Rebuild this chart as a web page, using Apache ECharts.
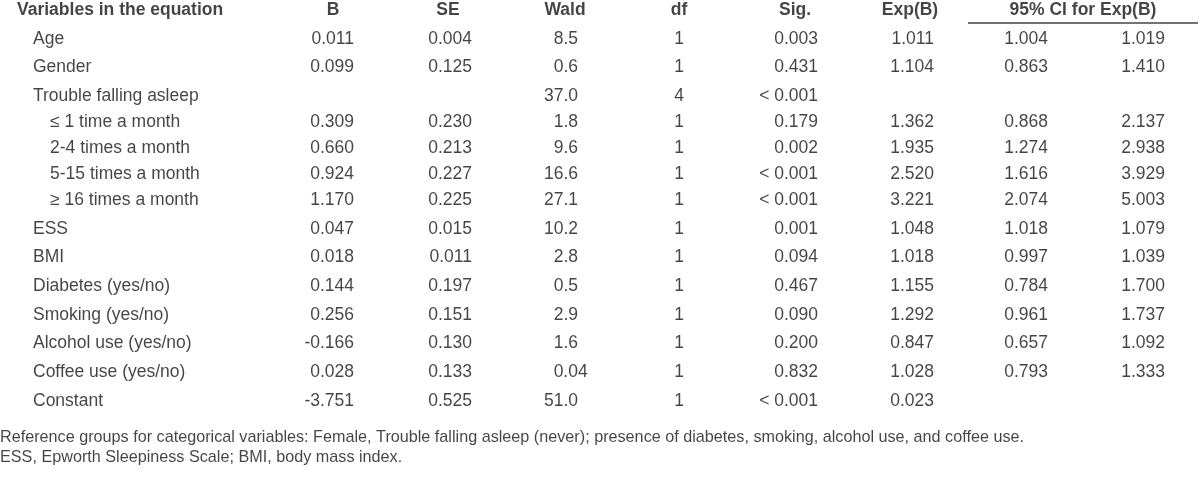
<!DOCTYPE html>
<html>
<head>
<meta charset="utf-8">
<script src="https://cdn.jsdelivr.net/npm/echarts@6/dist/echarts.min.js"></script>
<style>
html,body{margin:0;padding:0;background:#fff;}
#c{width:1200px;height:488px;}
</style>
</head>
<body>
<div id="c"></div>
<script>
// ---- data ----
var headers = ['Variables in the equation', 'B', 'SE', 'Wald', 'df', 'Sig.', 'Exp(B)', '95% CI for Exp(B)'];
var variables = ['Age', 'Gender', 'Trouble falling asleep', '\u2264 1 time a month', '2-4 times a month',
  '5-15 times a month', '\u2265 16 times a month', 'ESS', 'BMI', 'Diabetes (yes/no)', 'Smoking (yes/no)',
  'Alcohol use (yes/no)', 'Coffee use (yes/no)', 'Constant'];
var indentLevel = [1, 1, 1, 2, 2, 2, 2, 1, 1, 1, 1, 1, 1, 1];
var B = [0.011, 0.099, null, 0.309, 0.660, 0.924, 1.170, 0.047, 0.018, 0.144, 0.256, -0.166, 0.028, -3.751];
var SE = [0.004, 0.125, null, 0.230, 0.213, 0.227, 0.225, 0.015, 0.011, 0.197, 0.151, 0.130, 0.133, 0.525];
var Wald = ['8.5', '0.6', '37.0', '1.8', '9.6', '16.6', '27.1', '10.2', '2.8', '0.5', '2.9', '1.6', '0.04', '51.0'];
var dfVals = [1, 1, 4, 1, 1, 1, 1, 1, 1, 1, 1, 1, 1, 1];
var Sig = ['0.003', '0.431', '< 0.001', '0.179', '0.002', '< 0.001', '< 0.001', '0.001', '0.094', '0.467', '0.090', '0.200', '0.832', '< 0.001'];
var ExpB = [1.011, 1.104, null, 1.362, 1.935, 2.520, 3.221, 1.048, 1.018, 1.155, 1.292, 0.847, 1.028, 0.023];
var CILower = [1.004, 0.863, null, 0.868, 1.274, 1.616, 2.074, 1.018, 0.997, 0.784, 0.961, 0.657, 0.793, null];
var CIUpper = [1.019, 1.410, null, 2.137, 2.938, 3.929, 5.003, 1.079, 1.039, 1.700, 1.737, 1.092, 1.333, null];
var footnotes = [
  'Reference groups for categorical variables: Female, Trouble falling asleep (never); presence of diabetes, smoking, alcohol use, and coffee use.',
  'ESS, Epworth Sleepiness Scale; BMI, body mass index.'
];

// ---- layout / style ----
var FONT = "'Liberation Sans Narrow', 'Arial Narrow', 'Liberation Sans', sans-serif";
var TEXT = '#151515';
var BODY_SIZE = 17.5;
var HEAD_SIZE = 17.5;
var layout = {
  headerY: 10, firstRowY: 38.7, mainGap: 28.7, subGap: 26,
  nameX: {1: 33, 2: 50}, headerNameX: 17,
  digitW: 9.7,
  cols: [
    {key: 'B', x: 354, align: 'right', hx: 333},
    {key: 'SE', x: 472, align: 'right', hx: 448},
    {key: 'Wald', x: 578, align: 'decimal', hx: 565},
    {key: 'df', x: 679, align: 'center', hx: 679},
    {key: 'Sig', x: 818, align: 'right', hx: 795},
    {key: 'Exp', x: 934, align: 'right', hx: 910},
    {key: 'lo', x: 1048, align: 'right'},
    {key: 'hi', x: 1165, align: 'right'}
  ],
  ciHeaderX: 1083, ciLine: [968, 1198], ciLineY: 22.7,
  footY: [438, 458], footSize: 16.2
};

var colValues = {
  B: B.map(function (v) { return v == null ? '' : v.toFixed(3); }),
  SE: SE.map(function (v) { return v == null ? '' : v.toFixed(3); }),
  Wald: Wald,
  df: dfVals.map(String),
  Sig: Sig,
  Exp: ExpB.map(function (v) { return v == null ? '' : v.toFixed(3); }),
  lo: CILower.map(function (v) { return v == null ? '' : v.toFixed(3); }),
  hi: CIUpper.map(function (v) { return v == null ? '' : v.toFixed(3); })
};

// row positions from indent rule
var rowY = [];
for (var i = 0; i < variables.length; i++) {
  if (i === 0) rowY.push(layout.firstRowY);
  else rowY.push(rowY[i - 1] + (indentLevel[i] === 2 ? layout.subGap : layout.mainGap));
}

function cell(x, y, text, align, bold, size, dx) {
  return {
    value: [x, y],
    label: {
      show: true, position: 'inside', formatter: text,
      align: align, verticalAlign: 'middle',
      offset: [dx || 0, 0],
      fontFamily: FONT, fontSize: size || BODY_SIZE,
      fontWeight: bold ? 'bold' : 'normal', color: TEXT
    }
  };
}

var cells = [];
// header
cells.push(cell(layout.headerNameX, layout.headerY, headers[0], 'left', true, HEAD_SIZE));
layout.cols.forEach(function (c, k) {
  if (c.hx != null) cells.push(cell(c.hx, layout.headerY, headers[k + 1], 'center', true, HEAD_SIZE));
});
cells.push(cell(layout.ciHeaderX, layout.headerY, headers[7], 'center', true, HEAD_SIZE));
// body
variables.forEach(function (name, r) {
  cells.push(cell(layout.nameX[indentLevel[r]], rowY[r], name, 'left', false));
  layout.cols.forEach(function (c) {
    var t = colValues[c.key][r];
    if (!t) return;
    if (c.align === 'decimal') {
      var dec = t.indexOf('.') >= 0 ? t.length - t.indexOf('.') - 1 : 0;
      cells.push(cell(c.x, rowY[r], t, 'right', false, BODY_SIZE, (dec - 1) * layout.digitW));
    } else {
      cells.push(cell(c.x, rowY[r], t, c.align, false));
    }
  });
});
// footnotes
footnotes.forEach(function (f, k) {
  cells.push(cell(0, layout.footY[k], f, 'left', false, layout.footSize));
});

var chart = echarts.init(document.getElementById('c'), null, {renderer: 'canvas'});
chart.setOption({
  backgroundColor: '#ffffff',
  animation: false,
  grid: {left: 0, right: 0, top: 0, bottom: 0},
  xAxis: {type: 'value', min: 0, max: 1200, show: false},
  yAxis: {type: 'value', min: 0, max: 488, inverse: true, show: false},
  series: [
    {
      type: 'scatter', symbolSize: 0, silent: true,
      data: cells
    },
    {
      type: 'lines', coordinateSystem: 'cartesian2d', silent: true,
      lineStyle: {color: '#444', width: 1.5, opacity: 1},
      data: [{coords: [[layout.ciLine[0], layout.ciLineY], [layout.ciLine[1], layout.ciLineY]]}]
    }
  ]
});
</script>
</body>
</html>
